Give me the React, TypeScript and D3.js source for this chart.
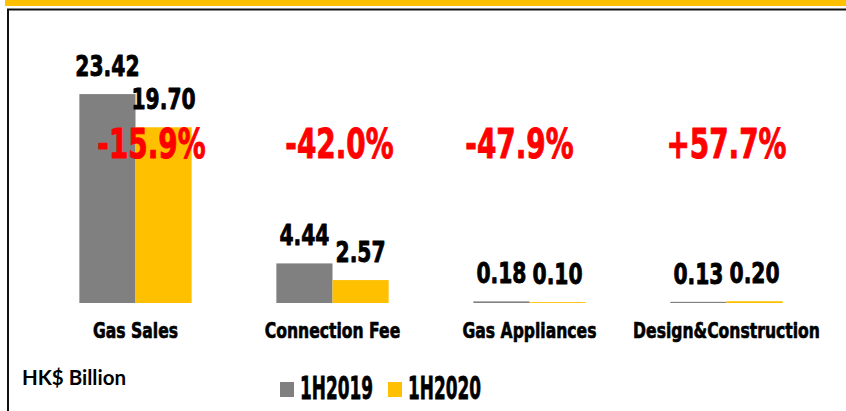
import React from "react";
import * as d3 from "d3";

const categories = ["Gas Sales", "Connection Fee", "Gas Appliances", "Design&Construction"];
const series2019 = [23.42, 4.44, 0.18, 0.13];
const series2020 = [19.7, 2.57, 0.1, 0.2];
const changeLabels = ["-15.9%", "-42.0%", "-47.9%", "+57.7%"];
const seriesNames = ["1H2019", "1H2020"];

const W = 846;
const H = 411;
const GRAY = "#808080";
const YELLOW = "#FFC000";
const RED = "#FF0000";
const HEAVY = "'DejaVu Sans', sans-serif";
const pctDx = [16, 7, -10, 0];

function Narrow({ x, y, size, fill, sx = 0.7, sw = 0.9, children }: any) {
  return (
    <text
      transform={`translate(${x},${y}) scale(${sx},1)`}
      textAnchor="middle"
      fontFamily={HEAVY}
      fontWeight="bold"
      fontSize={size}
      fill={fill}
      stroke={fill}
      strokeWidth={sw}
      strokeLinejoin="round"
    >
      {children}
    </text>
  );
}

export default function App() {
  const x = d3
    .scaleBand<string>()
    .domain(categories)
    .range([37, 825])
    .paddingInner(0.43)
    .paddingOuter(0.215);
  const xs = d3.scaleBand<string>().domain(seriesNames).range([0, x.bandwidth()]);
  const y = d3.scaleLinear().domain([0, 25]).range([303, 80]);
  const colors = [GRAY, YELLOW];
  const data = [series2019, series2020];

  return (
    <div style={{ position: "absolute", left: 0, top: 0, width: W, height: H, background: "#fff" }}>
      <svg width={W} height={H} style={{ display: "block" }}>
        <rect x={5} y={0} width={W - 5} height={6} fill={YELLOW} />
        <rect x={8} y={9.5} width={W + 10} height={H + 10} fill="none" stroke="#111" strokeWidth={2} />
        {categories.map((c, i) => (
          <g key={c} transform={`translate(${x(c)},0)`}>
            {seriesNames.map((s, j) => {
              const v = data[j][i];
              const bx = xs(s)!;
              return (
                <g key={s}>
                  <rect x={bx} y={y(v)} width={xs.bandwidth()} height={y(0) - y(v)} fill={colors[j]} />
                  <Narrow x={bx + xs.bandwidth() / 2} y={y(v) - 18} size={29} fill="#000">
                    {v.toFixed(2)}
                  </Narrow>
                </g>
              );
            })}
            <Narrow x={x.bandwidth() / 2} y={338} size={22} fill="#000" sx={0.71} sw={0.7}>
              {c}
            </Narrow>
            <Narrow x={x.bandwidth() / 2 + pctDx[i]} y={158} size={41} fill={RED} sx={0.68} sw={1}>
              {changeLabels[i]}
            </Narrow>
          </g>
        ))}
        <text x={22} y={385} fontFamily="Lato, 'Open Sans', sans-serif" fontWeight="bold" fontSize={20.5} fill="#000">
          HK$ Billion
        </text>
        {seriesNames.map((s, j) => (
          <g key={s} transform={`translate(${280 + j * 108},0)`}>
            <rect x={0} y={382} width={14} height={15} fill={colors[j]} />
            <text
              x={20}
              y={399}
              fontFamily={HEAVY}
              fontWeight="bold"
              fontSize={32}
              fill="#000"
              stroke="#000"
              strokeWidth={0.8}
              textLength={73}
              lengthAdjust="spacingAndGlyphs"
            >
              {s}
            </text>
          </g>
        ))}
      </svg>
    </div>
  );
}
